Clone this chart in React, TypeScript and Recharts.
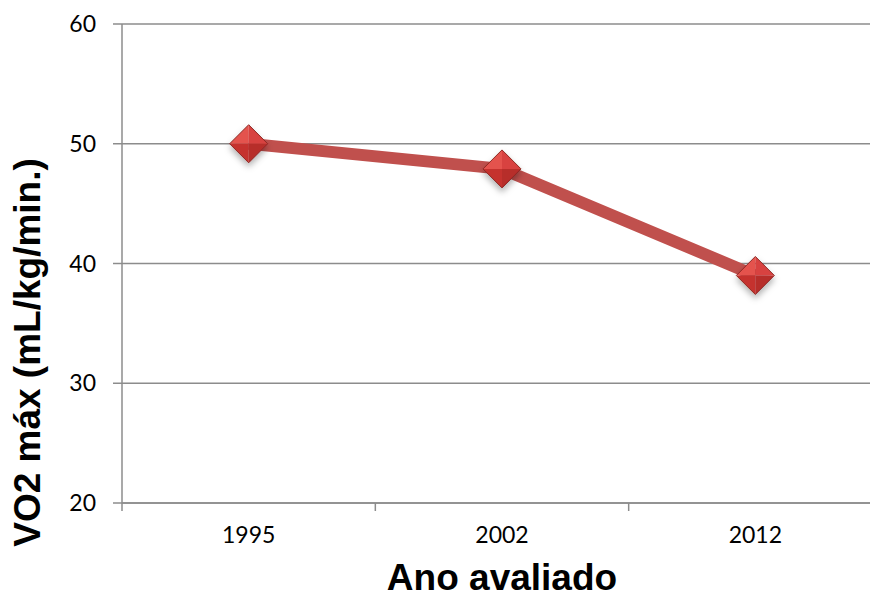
import { LineChart, Line, XAxis, YAxis, CartesianGrid, Label } from "recharts";

const years = ["1995", "2002", "2012"];
const vo2Max = [50, 47.9, 39];
const yTicks = [20, 30, 40, 50, 60];

const data = years.map((year, i) => ({ year, vo2: vo2Max[i] }));

const axisGray = "#8c8c8c";
const tickFont = "Lato, 'Open Sans', sans-serif";
const titleFont = "'Liberation Sans', Arial, sans-serif";

// diamond marker, lighter top facets and darker bottom ones
const DiamondDot = (props: any) => {
  const { cx, cy, index } = props;
  if (cx == null || cy == null) return null;
  const r = 19;
  return (
    <g key={`dot-${index}`} filter="url(#markerShadow)">
      <polygon points={`${cx - r},${cy} ${cx},${cy - r} ${cx},${cy}`} fill="#e4524e" />
      <polygon points={`${cx},${cy - r} ${cx + r},${cy} ${cx},${cy}`} fill="#d8433f" />
      <polygon points={`${cx - r},${cy} ${cx},${cy + r} ${cx},${cy}`} fill="#c5322f" />
      <polygon points={`${cx + r},${cy} ${cx},${cy + r} ${cx},${cy}`} fill="#b72d2a" />
      <polygon
        points={`${cx - r},${cy} ${cx},${cy - r} ${cx + r},${cy} ${cx},${cy + r}`}
        fill="none"
        stroke="#8e2623"
        strokeWidth={1}
      />
    </g>
  );
};

// Excel-style category tick: mark sits on the band boundary, label in the middle
const YearTick = (props: any) => {
  const { x, y, payload } = props;
  const half = payload?.offset ?? 0;
  return (
    <g>
      <line x1={x - half} x2={x - half} y1={503} y2={511} stroke={axisGray} strokeWidth={1.5} />
      <text x={x} y={y} dy={22} textAnchor="middle" fill="#000" fontSize={23} fontFamily={tickFont}>
        {payload.value}
      </text>
    </g>
  );
};

const YTitle = (props: any) => {
  const { viewBox } = props;
  const x = viewBox.x + 40;
  const y = viewBox.y + viewBox.height / 2 + 89;
  return (
    <text
      x={x}
      y={y}
      transform={`rotate(-90, ${x}, ${y})`}
      textAnchor="middle"
      fontSize={37}
      fontWeight="bold"
      fontFamily={titleFont}
      fill="#000"
    >
      VO2 máx (mL/kg/min.)
    </text>
  );
};

const XTitle = (props: any) => {
  const { viewBox } = props;
  return (
    <text
      x={viewBox.x + viewBox.width / 2}
      y={viewBox.y + viewBox.height - 6}
      textAnchor="middle"
      fontSize={37}
      fontWeight="bold"
      fontFamily={titleFont}
      fill="#000"
    >
      Ano avaliado
    </text>
  );
};

export default function App() {
  return (
    <div
      style={{
        position: "fixed",
        left: 0,
        top: 0,
        width: 870,
        height: 596,
        overflow: "hidden",
        background: "#fff",
      }}
    >
      <LineChart width={882} height={596} data={data} margin={{ top: 24, right: 0, bottom: 0, left: 0 }}>
        <defs>
          <filter id="markerShadow" x="-50%" y="-50%" width="200%" height="200%">
            <feDropShadow dx={0} dy={4} stdDeviation={3} floodColor="#000" floodOpacity={0.3} />
          </filter>
        </defs>
        <CartesianGrid vertical={false} stroke={axisGray} strokeWidth={1.5} />
        <XAxis
          dataKey="year"
          scale="band"
          height={93}
          interval={0}
          axisLine={{ stroke: axisGray, strokeWidth: 1.5 }}
          tickLine={false}
          tickSize={8}
          tickMargin={10}
          tick={<YearTick />}
        >
          <Label content={<XTitle />} />
        </XAxis>
        <YAxis
          width={122}
          domain={[20, 60]}
          ticks={yTicks}
          interval={0}
          tickSize={9}
          tickMargin={17}
          axisLine={{ stroke: axisGray, strokeWidth: 1.5 }}
          tickLine={{ stroke: axisGray, strokeWidth: 1.5 }}
          tick={{ fill: "#000", fontSize: 23, fontFamily: tickFont }}
        >
          <Label content={<YTitle />} />
        </YAxis>
        <Line
          type="linear"
          dataKey="vo2"
          stroke="#c0504d"
          strokeWidth={12}
          strokeLinejoin="round"
          dot={<DiamondDot />}
          activeDot={false}
          isAnimationActive={false}
        />
      </LineChart>
    </div>
  );
}
